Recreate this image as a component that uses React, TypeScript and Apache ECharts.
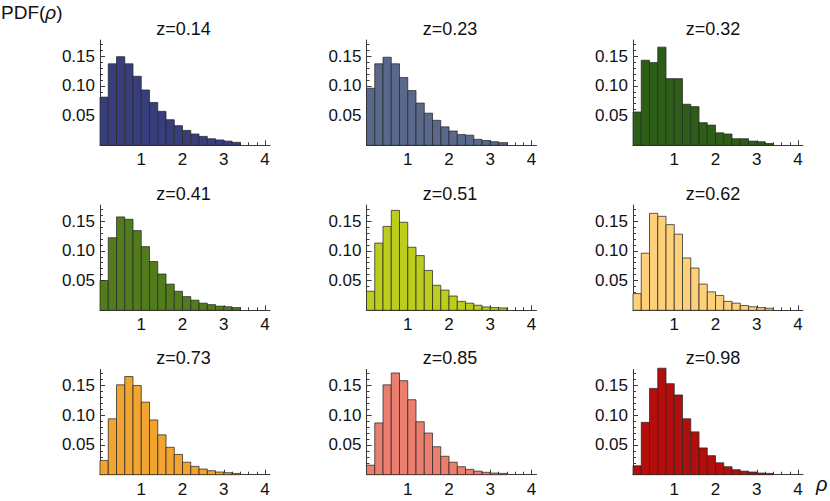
import React, { useEffect, useRef } from "react";
import * as echarts from "echarts";

// Bin edges (ρ) shared by every histogram
const binEdges = [0, 0.2, 0.4, 0.6, 0.8, 1.0, 1.2, 1.4, 1.6, 1.8, 2.0, 2.2, 2.4, 2.6, 2.8, 3.0, 3.2, 3.4];

// Panel labels
const zLabels = ["0.14", "0.23", "0.32", "0.41", "0.51", "0.62", "0.73", "0.85", "0.98"];

// PDF values per bin, one array per redshift
const pdfZ014 = [0.081, 0.137, 0.149, 0.137, 0.116, 0.093, 0.072, 0.057, 0.043, 0.033, 0.025, 0.019, 0.015, 0.011, 0.009, 0.007, 0.005];
const pdfZ023 = [0.096, 0.137, 0.148, 0.137, 0.114, 0.092, 0.071, 0.054, 0.042, 0.031, 0.024, 0.018, 0.017, 0.010, 0.008, 0.006, 0.0045];
const pdfZ032 = [0.056, 0.143, 0.139, 0.165, 0.112, 0.112, 0.069, 0.065, 0.038, 0.034, 0.021, 0.019, 0.011, 0.011, 0.007, 0.006, 0.003];
const pdfZ041 = [0.050, 0.122, 0.157, 0.153, 0.134, 0.107, 0.082, 0.061, 0.044, 0.032, 0.023, 0.017, 0.012, 0.0095, 0.007, 0.006, 0.0045];
const pdfZ051 = [0.032, 0.113, 0.141, 0.168, 0.148, 0.106, 0.092, 0.067, 0.042, 0.034, 0.024, 0.015, 0.012, 0.0085, 0.0056, 0.0045, 0.004];
const pdfZ062 = [0.028, 0.096, 0.163, 0.158, 0.144, 0.128, 0.088, 0.071, 0.044, 0.031, 0.025, 0.015, 0.012, 0.008, 0.006, 0.0045, 0.0034];
const pdfZ073 = [0.024, 0.094, 0.151, 0.165, 0.150, 0.122, 0.092, 0.067, 0.046, 0.034, 0.021, 0.014, 0.0095, 0.0067, 0.0045, 0.0034, 0.0022];
const pdfZ085 = [0.016, 0.087, 0.151, 0.171, 0.158, 0.126, 0.089, 0.070, 0.047, 0.031, 0.021, 0.0134, 0.009, 0.006, 0.004, 0.0028, 0.0022];
const pdfZ098 = [0.015, 0.088, 0.145, 0.179, 0.153, 0.134, 0.094, 0.072, 0.045, 0.032, 0.020, 0.0134, 0.0084, 0.006, 0.0045, 0.0028, 0.0022];

const panelValues = [pdfZ014, pdfZ023, pdfZ032, pdfZ041, pdfZ051, pdfZ062, pdfZ073, pdfZ085, pdfZ098];
const panelColors = ["#383e7b", "#58698c", "#2c5e17", "#527c1c", "#bccd1b", "#fed07a", "#f1a42f", "#ec7e6f", "#b30d0c"];

// Tick positions
const xMajorTicks = [1, 2, 3, 4];
const xMinorTicks = [0.2, 0.4, 0.6, 0.8, 1.2, 1.4, 1.6, 1.8, 2.2, 2.4, 2.6, 2.8, 3.2, 3.4, 3.6, 3.8];
const yMajorTicks = [0.05, 0.1, 0.15];
const yMinorTicks = [0.01, 0.02, 0.03, 0.04, 0.06, 0.07, 0.08, 0.09, 0.11, 0.12, 0.13, 0.14, 0.16, 0.17];

const X_MAX = 4.12;
const Y_MAX = 0.177;

const colLefts = [100, 366.5, 633];
const rowTops = [40, 205, 369.4];
const GRID_W = 170;
const GRID_H = 105.3;
const titleCenters = [183.5, 450, 713];
const titleOffset = 11.5;

const FONT = "'Liberation Sans', Arial, Helvetica, sans-serif";
const AXIS_COLOR = "#3a3a3a";

export default function App() {
  const ref = useRef<HTMLDivElement>(null);

  useEffect(() => {
    if (!ref.current) return;
    const chart = echarts.init(ref.current, undefined, { renderer: "svg" });

    const grids: any[] = [];
    const xAxes: any[] = [];
    const yAxes: any[] = [];
    const series: any[] = [];
    const graphics: any[] = [];

    panelValues.forEach((vals, gi) => {
      const col = gi % 3;
      const row = Math.floor(gi / 3);
      grids.push({ left: colLefts[col], top: rowTops[row], width: GRID_W, height: GRID_H, containLabel: false });

      xAxes.push({
        type: "value", gridIndex: gi, position: "bottom", min: 0, max: X_MAX,
        axisLine: { show: true, onZero: false, lineStyle: { color: AXIS_COLOR, width: 1 } },
        axisTick: { show: true, inside: true, length: 5, customValues: xMajorTicks, lineStyle: { color: AXIS_COLOR } },
        axisLabel: { show: true, customValues: xMajorTicks, margin: 6, fontSize: 17, color: "#111", fontFamily: FONT },
        splitLine: { show: false },
      });
      xAxes.push({
        type: "value", gridIndex: gi, position: "bottom", min: 0, max: X_MAX,
        axisLine: { show: false, onZero: false },
        axisTick: { show: true, inside: true, length: 3, customValues: xMinorTicks, lineStyle: { color: AXIS_COLOR } },
        axisLabel: { show: false },
        splitLine: { show: false },
      });
      yAxes.push({
        type: "value", gridIndex: gi, position: "left", min: 0, max: Y_MAX,
        axisLine: { show: true, onZero: false, lineStyle: { color: AXIS_COLOR, width: 1 } },
        axisTick: { show: true, inside: true, length: 5, customValues: yMajorTicks, lineStyle: { color: AXIS_COLOR } },
        axisLabel: {
          show: true, customValues: yMajorTicks, margin: 5, fontSize: 17, color: "#111", fontFamily: FONT,
          formatter: (v: number) => v.toFixed(2),
        },
        splitLine: { show: false },
      });
      yAxes.push({
        type: "value", gridIndex: gi, position: "left", min: 0, max: Y_MAX,
        axisLine: { show: false, onZero: false },
        axisTick: { show: true, inside: true, length: 3, customValues: yMinorTicks, lineStyle: { color: AXIS_COLOR } },
        axisLabel: { show: false },
        splitLine: { show: false },
      });

      const color = panelColors[gi];
      series.push({
        type: "custom",
        xAxisIndex: 2 * gi,
        yAxisIndex: 2 * gi,
        clip: false,
        z: 1,
        encode: { x: [0, 1], y: 2 },
        data: vals.map((v, i) => [binEdges[i], binEdges[i + 1], v]),
        renderItem: (_params: any, api: any) => {
          const p0 = api.coord([api.value(0), 0]);
          const p1 = api.coord([api.value(1), api.value(2)]);
          return {
            type: "rect",
            shape: { x: p0[0], y: p1[1], width: p1[0] - p0[0], height: p0[1] - p1[1] },
            style: { fill: color, stroke: "rgba(40,40,40,0.75)", lineWidth: 1 },
          };
        },
      });

      graphics.push({
        type: "text",
        x: titleCenters[col],
        y: rowTops[row] - titleOffset,
        style: {
          text: `z=${zLabels[gi]}`,
          fontSize: 18,
          fontFamily: FONT,
          fill: "#111",
          align: "center",
          verticalAlign: "middle",
        },
      });
    });

    graphics.push({
      type: "text",
      x: 1,
      y: 12,
      style: {
        text: "{n|PDF(}{i|ρ}{n|)}",
        fontSize: 19,
        fontFamily: FONT,
        fill: "#111",
        verticalAlign: "middle",
        rich: {
          n: { fontSize: 19, fontFamily: FONT, fill: "#111" },
          i: { fontSize: 19, fontFamily: FONT, fontStyle: "italic", fill: "#111" },
        },
      },
    });
    graphics.push({
      type: "text",
      x: 816,
      y: 484,
      style: {
        text: "ρ",
        fontSize: 20,
        fontFamily: FONT,
        fontStyle: "italic",
        fill: "#111",
        verticalAlign: "middle",
      },
    });

    chart.setOption({
      animation: false,
      backgroundColor: "#ffffff",
      grid: grids,
      xAxis: xAxes,
      yAxis: yAxes,
      series,
      graphic: graphics,
    });

    return () => chart.dispose();
  }, []);

  return (
    <div
      ref={ref}
      style={{ position: "fixed", left: 0, top: 0, width: 830, height: 501 }}
    />
  );
}
